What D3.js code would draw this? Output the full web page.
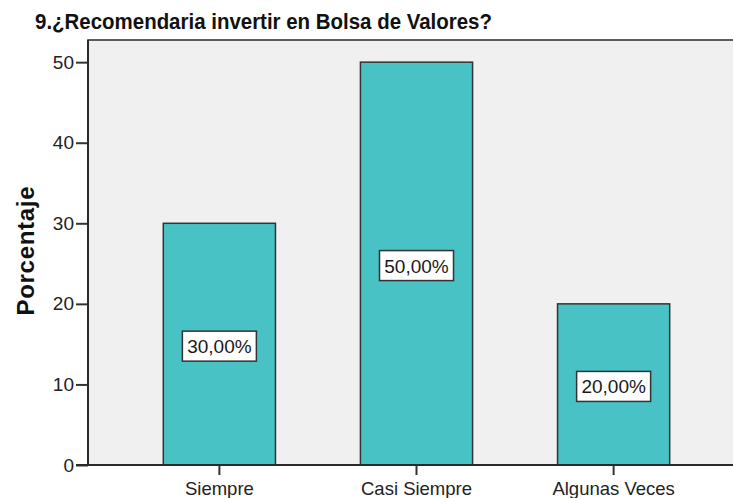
<!DOCTYPE html>
<html>
<head>
<meta charset="utf-8">
<script src="https://cdn.jsdelivr.net/npm/d3@7"></script>
<style>
  html, body { margin: 0; padding: 0; background: #ffffff; }
  svg { display: block; }
</style>
</head>
<body>
<svg id="chart" width="733" height="498"></svg>
<script>
const categories = ["Siempre", "Casi Siempre", "Algunas Veces"];
const values = [30, 50, 20];
const valueLabels = ["30,00%", "50,00%", "20,00%"];
const yTicks = [0, 10, 20, 30, 40, 50];
const title = "9.¿Recomendaria invertir en Bolsa de Valores?";
const yTitle = "Porcentaje";

const svg = d3.select("#chart");
const font = "'Liberation Sans', Arial, sans-serif";

const plotLeft = 88, plotTop = 40, plotBottom = 465, plotRight = 745;

const x = d3.scaleBand().domain(categories).range([plotLeft, plotRight])
  .paddingInner(0.431).paddingOuter(0.382);
const y = d3.scaleLinear().domain([0, 52.75]).range([plotBottom, plotTop]);

// plot background + frame
svg.append("rect")
  .attr("x", plotLeft).attr("y", plotTop)
  .attr("width", 760 - plotLeft).attr("height", plotBottom - plotTop)
  .attr("fill", "#f0f0f0").attr("stroke", "#2a2a2a").attr("stroke-width", 1.5);

// bars
svg.selectAll("rect.bar").data(values).enter().append("rect")
  .attr("class", "bar")
  .attr("x", (d, i) => x(categories[i]))
  .attr("y", d => y(d))
  .attr("width", x.bandwidth())
  .attr("height", d => y(0) - y(d))
  .attr("fill", "#48c2c5")
  .attr("stroke", "#333333").attr("stroke-width", 1.5);

// y axis
const yAxis = svg.append("g").attr("transform", `translate(${plotLeft},0)`)
  .call(d3.axisLeft(y).tickValues(yTicks).tickSize(12).tickPadding(2).tickFormat(d3.format("d")));
yAxis.select(".domain").remove();
yAxis.selectAll(".tick line").attr("stroke", "#333").attr("stroke-width", 2);
yAxis.selectAll(".tick text").attr("font-family", font).attr("font-size", 19).attr("fill", "#222");

// x axis
const xAxis = svg.append("g").attr("transform", `translate(0,${plotBottom})`)
  .call(d3.axisBottom(x).tickSize(10).tickPadding(5));
xAxis.select(".domain").remove();
xAxis.selectAll(".tick line").attr("stroke", "#333").attr("stroke-width", 2);
xAxis.selectAll(".tick text").attr("font-family", font).attr("font-size", 18.5).attr("fill", "#222")
  .attr("dy", null).attr("y", 30);

// axis lines
svg.append("line").attr("x1", plotLeft).attr("x2", plotLeft).attr("y1", plotTop).attr("y2", plotBottom)
  .attr("stroke", "#2a2a2a").attr("stroke-width", 2);
svg.append("line").attr("x1", plotLeft - 12).attr("x2", 760).attr("y1", plotBottom).attr("y2", plotBottom)
  .attr("stroke", "#2a2a2a").attr("stroke-width", 2);

// value labels
const lbl = svg.selectAll("g.lbl").data(values).enter().append("g").attr("class", "lbl")
  .attr("transform", (d, i) => `translate(${x(categories[i]) + x.bandwidth() / 2},${(y(d) + y(0)) / 2 + 2})`);
lbl.append("rect").attr("x", -37).attr("y", -15).attr("width", 74).attr("height", 30)
  .attr("fill", "#ffffff").attr("stroke", "#333").attr("stroke-width", 1.5);
lbl.append("text").attr("text-anchor", "middle").attr("y", 7)
  .attr("font-family", font).attr("font-size", 19).attr("fill", "#1a1a1a")
  .text((d, i) => valueLabels[i]);

// title
svg.append("text").attr("x", 35).attr("y", 29)
  .attr("font-family", font).attr("font-size", 21.5).attr("font-weight", "bold").attr("fill", "#111")
  .attr("textLength", 457).attr("lengthAdjust", "spacingAndGlyphs")
  .text(title);

// y title
svg.append("text").attr("transform", "translate(34,251) rotate(-90)")
  .attr("text-anchor", "middle")
  .attr("font-family", font).attr("font-size", 24).attr("font-weight", "bold").attr("fill", "#111")
  .attr("textLength", 129).attr("lengthAdjust", "spacing")
  .text(yTitle);
</script>
</body>
</html>
